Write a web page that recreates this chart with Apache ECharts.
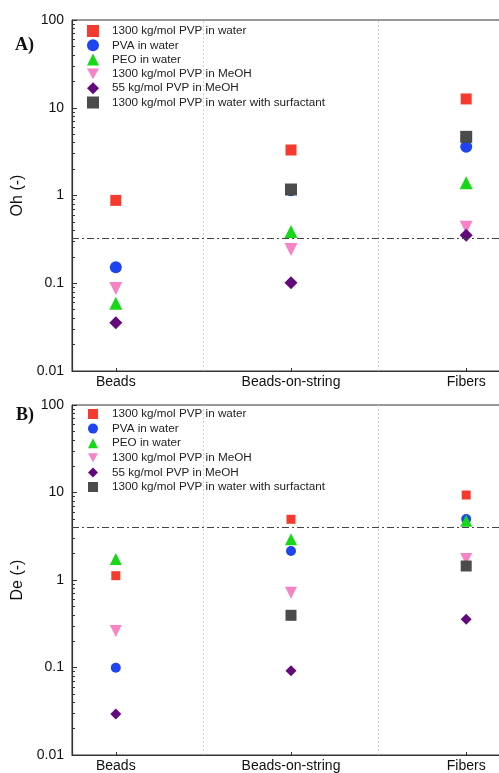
<!DOCTYPE html>
<html>
<head>
<meta charset="utf-8">
<script src="https://cdn.jsdelivr.net/npm/echarts@6/dist/echarts.min.js"></script>
<style>
  html, body { margin: 0; padding: 0; background: #fff; }
  #chart { width: 499px; height: 773px; }
</style>
</head>
<body>
<div id="chart"></div>
<script>
// categories on the x axis (placed at 1, 2, 3)
const categories = ['Beads', 'Beads-on-string', 'Fibers'];
const seriesNames = [
  '1300 kg/mol PVP in water',
  'PVA in water',
  'PEO in water',
  '1300 kg/mol PVP in MeOH',
  '55 kg/mol PVP in MeOH',
  '1300 kg/mol PVP in water with surfactant'
];

// A) Ohnesorge number
const ohPvp1300Water = [0.88, 3.3, 12.6];
const ohPva = [0.152, 1.15, 3.6];
const ohPeo = [0.059, 0.39, 1.4];
const ohPvp1300MeOH = [0.087, 0.243, 0.435];
const ohPvp55MeOH = [0.0355, 0.101, 0.353];
const ohSurfactant = [null, 1.17, 4.66];
const ohCritical = 0.33;

// B) Deborah number
const dePvp1300Water = [1.12, 4.94, 9.36];
const dePva = [0.0995, 2.14, 4.98];
const dePeo = [1.74, 2.92, 4.76];
const dePvp1300MeOH = [0.261, 0.716, 1.74];
const dePvp55MeOH = [0.0294, 0.092, 0.356];
const deSurfactant = [null, 0.395, 1.445];
const deCritical = 4.0;

const yTicks = [0.01, 0.1, 1, 10, 100];
const dividers = [1.5, 2.5];

const colors = ['#f63a2e', '#1f45f2', '#17d817', '#f583c6', '#62097c', '#4b4b4b'];
const symbols = ['rect', 'circle', 'triangle', 'path://M0,0 L10,0 L5,9 Z', 'diamond', 'rect'];
const sizesTop = [11, 12, 13, 13, 13, 12];
const sizesBottom = [9, 10, 12, 12, 11, 11];

const minorTicks = [];
[0.01, 0.1, 1, 10].forEach(d => { for (let k = 2; k <= 9; k++) minorTicks.push(+(k * d).toPrecision(3)); });

const font = 'Liberation Sans, Arial, sans-serif';

function toPoints(vals) {
  const pts = [];
  vals.forEach((v, i) => { if (v != null) pts.push([i + 1, v]); });
  return pts;
}

function panelSeries(sets, idx, sizes, critical) {
  const out = [{
    type: 'scatter', name: 'guides' + idx, data: [],
    xAxisIndex: idx, yAxisIndex: idx * 2, z: 1, silent: true,
    markLine: {
      symbol: 'none', silent: true, label: { show: false },
      data: dividers.map(x => ({ xAxis: x, lineStyle: { color: '#cfcfcf', type: [2, 2], width: 1 } }))
        .concat([{ yAxis: critical, lineStyle: { color: '#444', type: [7, 3, 2, 3], width: 1 } }])
    }
  }];
  sets.forEach((vals, i) => {
    out.push({
      type: 'scatter', name: seriesNames[i], data: toPoints(vals),
      xAxisIndex: idx, yAxisIndex: idx * 2, z: 3,
      symbol: symbols[i], symbolSize: sizes[i],
      itemStyle: { color: colors[i], opacity: 1 }
    });
  });
  return out;
}

function xAxisFor(grid) {
  return {
    type: 'value', gridIndex: grid, min: 0.75, max: 3.25,
    axisLine: { lineStyle: { color: '#333', width: 1.2 } },
    axisTick: { inside: true, length: 3, customValues: [1, 2, 3], lineStyle: { color: '#333' } },
    axisLabel: {
      customValues: [1, 2, 3], margin: 4, color: '#111', fontFamily: font, fontSize: 14,
      formatter: v => categories[Math.round(v) - 1]
    },
    splitLine: { show: false }
  };
}

function yAxesFor(grid, name) {
  return [{
    type: 'log', logBase: 10, gridIndex: grid, min: 0.01, max: 100,
    name: name, nameLocation: 'middle', nameGap: 41, nameRotate: 90,
    nameTextStyle: { fontFamily: font, fontSize: 16, color: '#111' },
    axisLine: { show: true, lineStyle: { color: '#333', width: 1.2 } },
    axisTick: { inside: true, length: 5, customValues: yTicks, lineStyle: { color: '#333' } },
    axisLabel: {
      customValues: yTicks, margin: 8, color: '#111', fontFamily: font, fontSize: 14,
      formatter: v => String(v)
    },
    splitLine: { show: false }
  }, {
    type: 'log', logBase: 10, gridIndex: grid, min: 0.01, max: 100, position: 'left', offset: 0,
    axisLine: { show: false },
    axisTick: { inside: true, length: 3, customValues: minorTicks, lineStyle: { color: '#333' } },
    axisLabel: { show: false },
    splitLine: { show: false }
  }];
}

const legendText = { fontFamily: font, fontSize: 11.7, color: '#222', lineHeight: 12 };

const chart = echarts.init(document.getElementById('chart'));
chart.setOption({
  animation: false,
  backgroundColor: '#fff',
  grid: [
    { left: 72, width: 438, top: 20, height: 351, outerBoundsMode: 'none', containLabel: false,
      show: true, borderColor: '#333', borderWidth: 1 },
    { left: 72, width: 438, top: 405, height: 350, outerBoundsMode: 'none', containLabel: false,
      show: true, borderColor: '#333', borderWidth: 1 }
  ],
  xAxis: [xAxisFor(0), xAxisFor(1)],
  yAxis: yAxesFor(0, 'Oh (-)').concat(yAxesFor(1, 'De (-)')),
  legend: [{
    left: 81, top: 22, orient: 'vertical', data: seriesNames,
    itemWidth: 12, itemHeight: 12, itemGap: 2.3, padding: [3, 6, 3, 6],
    backgroundColor: '#fff', textStyle: Object.assign({ padding: [0, 0, 0, 8] }, legendText),
    selectedMode: false
  }, {
    left: 88, top: 408, orient: 'vertical', data: seriesNames,
    itemWidth: 10, itemHeight: 10, itemGap: 2.6, padding: 0,
    textStyle: Object.assign({ padding: [0, 0, 0, 9] }, legendText),
    selectedMode: false
  }],
  graphic: [
    { type: 'text', left: 15, top: 36, style: { text: 'A)', font: 'bold 18px "Liberation Serif", "Times New Roman", serif', fill: '#111' } },
    { type: 'text', left: 16, top: 406, style: { text: 'B)', font: 'bold 18px "Liberation Serif", "Times New Roman", serif', fill: '#111' } }
  ],
  series: panelSeries([ohPvp1300Water, ohPva, ohPeo, ohPvp1300MeOH, ohPvp55MeOH, ohSurfactant], 0, sizesTop, ohCritical)
    .concat(panelSeries([dePvp1300Water, dePva, dePeo, dePvp1300MeOH, dePvp55MeOH, deSurfactant], 1, sizesBottom, deCritical))
});
</script>
</body>
</html>
